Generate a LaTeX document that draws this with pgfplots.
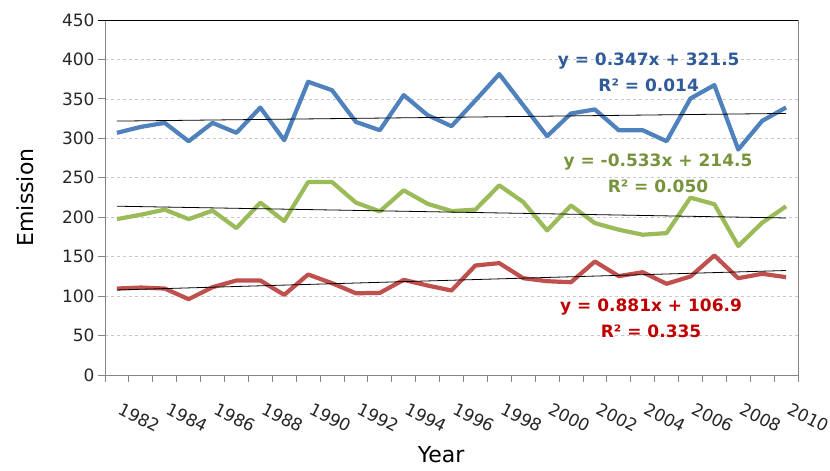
\documentclass[border=0pt]{standalone}
\usepackage{pgfplots}
\pgfplotsset{compat=1.18}
\usepackage{fontspec}
\setmainfont{DejaVu Sans}
\definecolor{sblue}{RGB}{79,129,189}
\definecolor{sgreen}{RGB}{155,187,89}
\definecolor{sred}{RGB}{192,80,77}
\definecolor{tblue}{RGB}{47,92,152}
\definecolor{tgreen}{RGB}{119,147,60}
\definecolor{tred}{RGB}{192,0,0}
\definecolor{axgray}{RGB}{134,134,134}
\definecolor{gridgray}{RGB}{200,200,200}
\begin{document}
\begin{tikzpicture}
\useasboundingbox (-105pt,-96pt) rectangle (725pt,375pt);
\begin{axis}[
  scale only axis,
  width=693pt, height=355pt,
  xmin=1981.5, xmax=2010.5,
  ymin=0, ymax=450,
  ytick={0,50,...,450},
  xtick={1982,1984,...,2010},
  minor xtick={1981.5,1982.5,...,2010.5},
  xticklabel style={rotate=-27, anchor=north west, inner sep=0pt, xshift=14pt, yshift=-15pt, font=\fontsize{17}{20}\selectfont, text=black!85},
  yticklabel style={font=\fontsize{17}{20}\selectfont, text=black!85},
  /pgf/number format/assume math mode=true,
  xticklabel={\pgfmathprintnumber[1000 sep={},fixed]{\tick}},
  tick align=outside,
  xtick pos=bottom, ytick pos=left,
  major x tick style={draw=none},
  major tick length=7pt, minor tick length=7pt,
  every tick/.style={axgray, line width=0.8pt},
  axis line style={axgray, line width=0.8pt},
  ymajorgrids,
  major grid style={gridgray, dashed, line width=0.6pt},
  xlabel={Year}, ylabel={Emission},
  xlabel style={at={(axis description cs:0.485,-0.225)}, anchor=center, font=\fontsize{22}{26}\selectfont},
  ylabel style={at={(axis description cs:-0.115,0.5)}, anchor=center, font=\fontsize{22}{26}\selectfont},
  clip=false,
]
\draw[black, line width=0.8pt] ([xshift=-7pt]rel axis cs:0,1) -- (rel axis cs:1,1);
% blue series
\addplot[sblue, line width=4.2pt, line join=round, no marks] coordinates {
(1982,307) (1983,314.5) (1984,319.6) (1985,296.3) (1986,319.6) (1987,307) (1988,339) (1989,297.6) (1990,371.7) (1991,361)
(1992,320.8) (1993,310.3) (1994,354.8) (1995,329.4) (1996,315.4) (1997,348) (1998,381.4) (1999,342) (2000,302.7) (2001,331.5)
(2002,336.6) (2003,310.3) (2004,310.3) (2005,296.3) (2006,350.5) (2007,367.5) (2008,285.8) (2009,322.1) (2010,339.1)};
% green series
\addplot[sgreen, line width=4.2pt, line join=round, no marks] coordinates {
(1982,197.6) (1983,203.2) (1984,209.6) (1985,197.6) (1986,208.3) (1987,186.2) (1988,218.5) (1989,195.1) (1990,244.6) (1991,244.6)
(1992,218.5) (1993,207.4) (1994,234.1) (1995,217) (1996,207.8) (1997,209.6) (1998,240.4) (1999,219.3) (2000,183.3) (2001,214.9)
(2002,192.5) (2003,184.2) (2004,177.8) (2005,179.9) (2006,224.8) (2007,216.5) (2008,163.5) (2009,193) (2010,213.8)};
% red series
\addplot[sred, line width=4.2pt, line join=round, no marks] coordinates {
(1982,109.6) (1983,110.9) (1984,109.6) (1985,96.1) (1986,111.3) (1987,119.8) (1988,119.8) (1989,101.6) (1990,127.4) (1991,116.4)
(1992,103.6) (1993,104.1) (1994,120.6) (1995,113.4) (1996,107.1) (1997,138.8) (1998,141.8) (1999,122.7) (2000,118.9) (2001,117.6)
(2002,143.9) (2003,125.3) (2004,130.3) (2005,115.6) (2006,124.9) (2007,151.5) (2008,122.7) (2009,128.3) (2010,124)};
% trend lines
\addplot[black, line width=0.8pt, no marks] coordinates {(1982,321.847) (2010,331.563)};
\addplot[black, line width=0.8pt, no marks] coordinates {(1982,213.967) (2010,199.043)};
\addplot[black, line width=0.8pt, no marks] coordinates {(1982,107.781) (2010,132.449)};
% equations
\node[text=tblue, font=\bfseries\fontsize{17}{26}\selectfont, align=center] at (axis cs:2004.25,383.3) {y = 0.347x + 321.5\\R² = 0.014};
\node[text=tgreen, font=\bfseries\fontsize{17}{26}\selectfont, align=center] at (axis cs:2004.64,255.7) {y = -0.533x + 214.5\\R² = 0.050};
\node[text=tred, font=\bfseries\fontsize{17}{26}\selectfont, align=center] at (axis cs:2004.35,71.5) {y = 0.881x + 106.9\\R² = 0.335};
\end{axis}
\end{tikzpicture}
\end{document}
